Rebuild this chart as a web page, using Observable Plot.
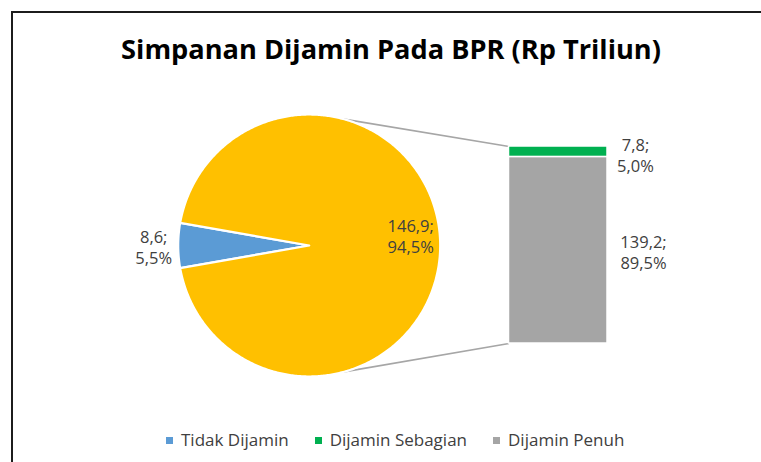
<!DOCTYPE html>
<html>
<head>
<meta charset="utf-8">
<script src="https://cdn.jsdelivr.net/npm/d3@7"></script>
<script src="https://cdn.jsdelivr.net/npm/@observablehq/plot@0.6"></script>
<style>
  html, body { margin: 0; padding: 0; background: #fff; }
  #fig { position: relative; width: 761px; height: 462px; overflow: hidden; background: #fff; font-family: "Open Sans", sans-serif; }
  #frame { position: absolute; left: 11px; top: 11px; width: 900px; height: 600px; border-top: 2px solid #1c1c1c; border-left: 2px solid #1c1c1c; }
  #chart { position: absolute; left: 0; top: 0; }
  #title { position: absolute; left: 0; width: 782px; top: 35px; text-align: center; font-weight: 700; font-size: 27.2px; line-height: 28px; color: #000; white-space: nowrap; }
  #legend { position: absolute; left: 166px; top: 428px; display: flex; align-items: center; font-size: 17px; line-height: 24px; color: #404040; white-space: nowrap; }
  #legend .item { display: flex; align-items: center; margin-right: 26px; }
  #legend .sw { width: 7px; height: 7px; margin-right: 8px; margin-top: 1px; }
</style>
</head>
<body>
<div id="fig">
  <div id="frame"></div>
  <div id="chart"></div>
  <div id="title"></div>
  <div id="legend"></div>
</div>
<script>
// ---- data ----
const titleText = "Simpanan Dijamin Pada BPR (Rp Triliun)";
const pieCategories = ["Tidak Dijamin", "Dijamin"];
const pieValues = [8.6, 146.9];
const piePercents = ["5,5%", "94,5%"];
const barCategories = ["Dijamin Penuh", "Dijamin Sebagian"];
const barValues = [139.2, 7.8];
const barPercents = ["89,5%", "5,0%"];
const legendLabels = ["Tidak Dijamin", "Dijamin Sebagian", "Dijamin Penuh"];
const colorDomain = ["Tidak Dijamin", "Dijamin", "Dijamin Sebagian", "Dijamin Penuh"];
const colorRange = ["#5b9bd5", "#ffc000", "#00b050", "#a5a5a5"];

// ---- layout (pixels) ----
const W = 761, H = 462;
const CX = 308.7, CY = 245, R = 131;
const BAR_X0 = 508.5, BAR_X1 = 607, BAR_TOP = 146, BAR_BOTTOM = 343;
const CONNECT_ANGLE = 15.3 * Math.PI / 180;
const pieLabelRadius = [R + 24.5, 101.5];
const pieLabelDy = [1.5, -10];
const barLabelX = [643, 635];
const barLabelDy = [2, 3.5];
const labelFont = 16.5;

const fmt = v => v.toFixed(1).replace(".", ",") + ";";

const barTotal = d3.sum(barValues);
const k = (BAR_BOTTOM - BAR_TOP) / barTotal;          // px per value unit
const toY = py => (BAR_BOTTOM - py) / k;               // pixel row -> y value units
const yDomain = [toY(H), toY(0)];

// pie slices from data
const pieTotal = d3.sum(pieValues);
const firstShare = pieValues[0] / pieTotal;
const start = 1.5 * Math.PI - firstShare * Math.PI;
const arcs = d3.pie().sort(null).startAngle(start).endAngle(start + 2 * Math.PI)(pieValues);
const piePoints = [];
arcs.forEach((a, i) => {
  const cat = pieCategories[i];
  piePoints.push({cat, x: CX, y: toY(CY)});
  const n = Math.max(4, Math.ceil((a.endAngle - a.startAngle) / 0.01));
  for (let j = 0; j <= n; j++) {
    const t = a.startAngle + (a.endAngle - a.startAngle) * j / n;
    piePoints.push({cat, x: CX + R * Math.sin(t), y: toY(CY - R * Math.cos(t))});
  }
  piePoints.push({cat, x: CX, y: toY(CY)});
});
const pieLabels = arcs.map((a, i) => {
  const m = (a.startAngle + a.endAngle) / 2;
  const r = pieLabelRadius[i];
  return {
    x: CX + r * Math.sin(m),
    y: toY(CY - r * Math.cos(m) + pieLabelDy[i]),
    text: fmt(pieValues[i]) + "\n" + piePercents[i]
  };
});

// bar
const barData = barCategories.map((c, i) => ({cat: c, value: barValues[i], x0: BAR_X0, x1: BAR_X1}));
const cum = d3.cumsum(barValues);
const barLabels = barCategories.map((c, i) => ({
  x: barLabelX[i],
  y: cum[i] - barValues[i] / 2 - barLabelDy[i] / k,
  text: fmt(barValues[i]) + "\n" + barPercents[i]
}));

// connector lines
const connectors = [
  {x1: CX + R * Math.sin(CONNECT_ANGLE), y1: toY(CY - R * Math.cos(CONNECT_ANGLE)), x2: BAR_X0, y2: barTotal},
  {x1: CX + R * Math.sin(CONNECT_ANGLE), y1: toY(CY + R * Math.cos(CONNECT_ANGLE)), x2: BAR_X0, y2: 0}
];

const plot = Plot.plot({
  width: W,
  height: H,
  marginTop: 0, marginRight: 0, marginBottom: 0, marginLeft: 0,
  style: {background: "transparent", fontFamily: "'Open Sans', sans-serif"},
  x: {domain: [0, W], range: [0, W], axis: null},
  y: {domain: yDomain, range: [H, 0], axis: null},
  color: {domain: colorDomain, range: colorRange},
  marks: [
    Plot.link(connectors, {x1: "x1", y1: "y1", x2: "x2", y2: "y2", stroke: "#a6a6a6", strokeWidth: 1.6}),
    Plot.line(piePoints, {x: "x", y: "y", z: "cat", fill: "cat", stroke: "white", strokeWidth: 2.2, strokeLinejoin: "miter", strokeMiterlimit: 10}),
    Plot.rectY(barData, Plot.stackY({x1: "x0", x2: "x1", y: "value", fill: "cat", stroke: "white", strokeWidth: 1.5})),
    Plot.text(pieLabels, {x: "x", y: "y", text: "text", fill: "#404040", fontSize: labelFont, lineHeight: 1.27, lineAnchor: "middle", textAnchor: "middle"}),
    Plot.text(barLabels, {x: "x", y: "y", text: "text", fill: "#404040", fontSize: labelFont, lineHeight: 1.27, lineAnchor: "middle", textAnchor: "middle"})
  ]
});
document.getElementById("chart").appendChild(plot);

document.getElementById("title").textContent = titleText;

const color = plot.scale("color");
const legend = document.getElementById("legend");
legendLabels.forEach(l => {
  const item = document.createElement("div");
  item.className = "item";
  const sw = document.createElement("span");
  sw.className = "sw";
  sw.style.background = color.range[color.domain.indexOf(l)];
  const tx = document.createElement("span");
  tx.textContent = l;
  item.appendChild(sw);
  item.appendChild(tx);
  legend.appendChild(item);
});
</script>
</body>
</html>
